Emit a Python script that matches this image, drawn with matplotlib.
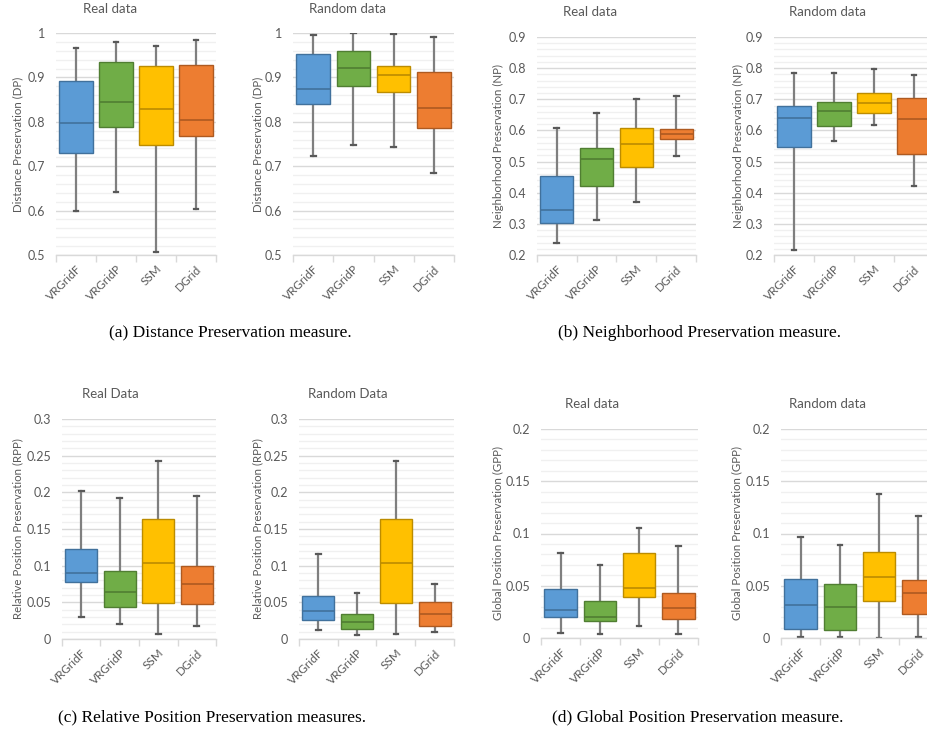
import matplotlib
matplotlib.use('Agg')
import matplotlib.pyplot as plt
from matplotlib.ticker import MultipleLocator, FuncFormatter

W, H = 928, 732

methods = ['VRGridF', 'VRGridP', 'SSM', 'DGrid']

# per method: [whisker low, q1, median, q3, whisker high]
dp_real = [[0.600, 0.730, 0.798, 0.891, 0.966],
           [0.642, 0.788, 0.844, 0.935, 0.980],
           [0.507, 0.747, 0.829, 0.926, 0.971],
           [0.603, 0.768, 0.805, 0.927, 0.984]]
dp_random = [[0.723, 0.840, 0.875, 0.953, 0.995],
             [0.748, 0.881, 0.921, 0.960, 0.999],
             [0.744, 0.867, 0.905, 0.926, 0.998],
             [0.685, 0.786, 0.832, 0.913, 0.991]]
np_real = [[0.240, 0.303, 0.345, 0.454, 0.608],
           [0.312, 0.422, 0.507, 0.545, 0.657],
           [0.371, 0.483, 0.558, 0.609, 0.700],
           [0.518, 0.574, 0.588, 0.603, 0.711]]
np_random = [[0.216, 0.548, 0.640, 0.679, 0.786],
             [0.567, 0.615, 0.662, 0.690, 0.786],
             [0.618, 0.656, 0.687, 0.721, 0.798],
             [0.422, 0.525, 0.637, 0.703, 0.777]]
rpp_real = [[0.0305, 0.0773, 0.0895, 0.123, 0.2018],
            [0.0205, 0.0441, 0.0645, 0.0927, 0.192],
            [0.0068, 0.0486, 0.104, 0.164, 0.243],
            [0.018, 0.0477, 0.0755, 0.099, 0.1945]]
rpp_random = [[0.0127, 0.026, 0.038, 0.059, 0.1155],
              [0.0055, 0.014, 0.0227, 0.034, 0.063],
              [0.0068, 0.0486, 0.104, 0.164, 0.243],
              [0.0095, 0.0177, 0.0345, 0.050, 0.0745]]
gpp_real = [[0.0051, 0.0197, 0.027, 0.0468, 0.0815],
            [0.0041, 0.0162, 0.0204, 0.0354, 0.070],
            [0.0115, 0.0389, 0.0475, 0.0815, 0.1057],
            [0.0041, 0.0178, 0.0287, 0.043, 0.0876]]
gpp_random = [[0.001, 0.0083, 0.0312, 0.056, 0.0965],
              [0.0006, 0.0076, 0.030, 0.0513, 0.0892],
              [0.0003, 0.0357, 0.0586, 0.0822, 0.1376],
              [0.001, 0.0229, 0.0427, 0.0551, 0.1166]]

fills = ['#5B9BD5', '#70AD47', '#FFC000', '#ED7D31']
edges = ['#41719C', '#507E32', '#BC8C00', '#AE5A21']
grey_txt = '#595959'

plt.rcParams['font.family'] = ['Lato', 'DejaVu Sans']

fig = plt.figure(figsize=(W / 100, H / 100), dpi=100)


def px_axes(left, top, right, bottom):
    return fig.add_axes([left / W, 1 - bottom / H, (right - left) / W, (bottom - top) / H])


def draw_panel(box, data, ylim, major, minor, title, title_xy, ylabel, ylabel_x):
    ax = px_axes(*box)
    stats = []
    for name, (lo, q1, med, q3, hi) in zip(methods, data):
        stats.append(dict(label=name, whislo=lo, q1=q1, med=med, q3=q3, whishi=hi, fliers=[]))
    res = ax.bxp(stats, positions=range(1, 5), widths=0.83, patch_artist=True,
                 showfliers=False, manage_ticks=False,
                 whiskerprops=dict(color='#7F7F7F', linewidth=1.6),
                 capprops=dict(color='#595959', linewidth=1.6),
                 capwidths=0.12)
    for i, patch in enumerate(res['boxes']):
        patch.set_facecolor(fills[i])
        patch.set_edgecolor(edges[i])
        patch.set_linewidth(1.0)
        patch.set_zorder(3)
        res['medians'][i].set_color(edges[i])
        res['medians'][i].set_linewidth(1.2)
        res['medians'][i].set_zorder(4)

    ax.set_xlim(0.5, 4.5)
    ax.set_ylim(*ylim)
    ax.yaxis.set_major_locator(MultipleLocator(major))
    ax.yaxis.set_minor_locator(MultipleLocator(minor))
    ax.yaxis.set_major_formatter(FuncFormatter(lambda v, p: f'{round(v, 4):g}'))
    ax.grid(which='major', axis='y', color='#D9D9D9', linewidth=1.0, zorder=0)
    ax.grid(which='minor', axis='y', color='#F0F0F0', linewidth=1.0, zorder=0)
    ax.set_axisbelow(True)
    for s in ['top', 'right', 'left']:
        ax.spines[s].set_visible(False)
    ax.spines['bottom'].set_color('#D9D9D9')
    ax.spines['bottom'].set_linewidth(1.0)
    ax.tick_params(axis='y', which='both', length=0, labelsize=9, labelcolor=grey_txt, pad=8)
    ax.set_xticks(range(1, 5))
    ax.set_xticklabels(methods, rotation=45, ha='right', rotation_mode='anchor',
                       fontsize=8.5, color=grey_txt)
    ax.tick_params(axis='x', which='major', length=0, pad=6)
    ax.set_xticks([0.5, 1.5, 2.5, 3.5, 4.5], minor=True)
    ax.tick_params(axis='x', which='minor', length=5, color='#D9D9D9', width=1.0)

    fig.text(title_xy[0] / W, 1 - title_xy[1] / H, title, ha='center', va='center',
             fontsize=9.5, color=grey_txt)
    yc = (box[1] + box[3]) / 2
    fig.text(ylabel_x / W, 1 - yc / H, ylabel, rotation=90, ha='center', va='center',
             fontsize=8.3, color=grey_txt)
    return ax


dp_lim = (0.5, 1.0)
np_lim = (0.2, 0.9)
rpp_lim = (0, 0.3)
gpp_lim = (0, 0.2)

draw_panel((56, 33, 216, 255), dp_real, dp_lim, 0.1, 0.02, 'Real data', (110, 9),
           'Distance Preservation (DP)', 18)
draw_panel((293, 33, 454, 255), dp_random, dp_lim, 0.1, 0.02, 'Random data', (348, 9),
           'Distance Preservation (DP)', 258)
draw_panel((537, 37, 696, 255), np_real, np_lim, 0.1, 0.02, 'Real data', (590, 12),
           'Neighborhood Preservation (NP)', 498)
draw_panel((774, 37, 934, 255), np_random, np_lim, 0.1, 0.02, 'Random data', (828, 12),
           'Neighborhood Preservation (NP)', 738)
draw_panel((62, 419, 216, 639), rpp_real, rpp_lim, 0.05, 0.01, 'Real Data', (110, 394),
           'Relative Position Preservation (RPP)', 18)
draw_panel((299, 419, 454, 639), rpp_random, rpp_lim, 0.05, 0.01, 'Random Data', (348, 394),
           'Relative Position Preservation (RPP)', 258)
draw_panel((541, 429, 698, 638), gpp_real, gpp_lim, 0.05, 0.01, 'Real data', (592, 404),
           'Global Position Preservation (GPP)', 498)
draw_panel((781, 429, 938, 638), gpp_random, gpp_lim, 0.05, 0.01, 'Random data', (828, 404),
           'Global Position Preservation (GPP)', 737)

captions = [('(a) Distance Preservation measure.', 230, 333),
            ('(b) Neighborhood Preservation measure.', 700, 333),
            ('(c) Relative Position Preservation measures.', 212, 717),
            ('(d) Global Position Preservation measure.', 698, 717)]
for text, cx, cy in captions:
    fig.text(cx / W, 1 - cy / H, text, ha='center', va='center',
             fontsize=12.5, family='Liberation Serif', color='black')

fig.savefig('out.png', dpi=100)
